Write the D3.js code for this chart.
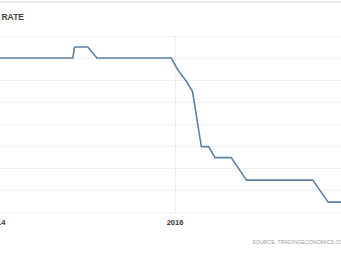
<!DOCTYPE html>
<html>
<head>
<meta charset="utf-8">
<script src="https://cdn.jsdelivr.net/npm/d3@7"></script>
<style>
  body { margin: 0; background: #fff; }
  svg { display: block; }
</style>
</head>
<body>
<svg id="chart" width="341" height="254"></svg>
<script>
// rate series (step changes)
const dates = ["2014-01-01", "2014-11-08", "2014-11-15", "2015-01-08", "2015-02-15",
  "2015-12-17", "2016-01-13", "2016-02-18", "2016-03-13", "2016-04-18", "2016-05-18",
  "2016-06-13", "2016-08-19", "2016-10-20", "2017-07-19", "2017-09-20", "2017-12-31"];
const rates = [7, 7, 7.5, 7.5, 7, 7, 6.45, 5.92, 5.47, 2.97, 2.97, 2.47, 2.47, 1.45, 1.45, 0.45, 0.45];
const yTicks = [0, 1, 2, 3, 4, 5, 6, 7, 8];
const xTicks = ["2014-01-01", "2016-01-01"];

const parse = d3.timeParse("%Y-%m-%d");
const data = dates.map((d, i) => ({ date: parse(d), value: rates[i] }));

const svg = d3.select("#chart");
const W = 341, H = 254;

const x = d3.scaleTime()
  .domain([parse("2014-01-01"), parse("2016-01-01")])
  .range([-3, 175]);
const y = d3.scaleLinear().domain([0, 8]).range([212, 36]);

// top border
svg.append("line")
  .attr("x1", 0).attr("x2", W).attr("y1", 2).attr("y2", 2)
  .attr("stroke", "#e4e4e4").attr("stroke-width", 1.5);

svg.append("text")
  .attr("x", 24).attr("y", 20)
  .attr("text-anchor", "end")
  .attr("font-family", "Arial, Liberation Sans, sans-serif")
  .attr("font-weight", "bold")
  .attr("font-size", "8.5px")
  .attr("fill", "#444")
  .text("INTEREST RATE");

// horizontal grid
svg.append("g")
  .selectAll("line")
  .data(yTicks)
  .join("line")
  .attr("x1", 0).attr("x2", W)
  .attr("y1", d => Math.round(y(d)) + 0.5)
  .attr("y2", d => Math.round(y(d)) + 0.5)
  .attr("stroke", "#efefef");

// vertical grid at year ticks
svg.append("g")
  .selectAll("line")
  .data(xTicks.map(parse))
  .join("line")
  .attr("x1", d => Math.round(x(d)) + 0.5)
  .attr("x2", d => Math.round(x(d)) + 0.5)
  .attr("y1", 36).attr("y2", 212)
  .attr("stroke", "#efefef");

svg.append("g")
  .selectAll("text")
  .data(xTicks.map(parse))
  .join("text")
  .attr("x", d => x(d))
  .attr("y", 225)
  .attr("text-anchor", "middle")
  .attr("font-family", "Arial, Liberation Sans, sans-serif")
  .attr("font-weight", "bold")
  .attr("font-size", "7.5px")
  .attr("fill", "#333")
  .text(d3.timeFormat("%Y"));

const line = d3.line()
  .x(d => x(d.date))
  .y(d => y(d.value));

svg.append("path")
  .datum(data)
  .attr("d", line)
  .attr("fill", "none")
  .attr("stroke", "#5a81a8")
  .attr("stroke-width", 1.6)
  .attr("stroke-linejoin", "round");

svg.append("text")
  .attr("x", 252).attr("y", 244)
  .attr("font-family", "Arial, Liberation Sans, sans-serif")
  .attr("font-size", "5.3px")
  .attr("fill", "#a0a0a0")
  .text("SOURCE: TRADINGECONOMICS.COM");
</script>
</body>
</html>
